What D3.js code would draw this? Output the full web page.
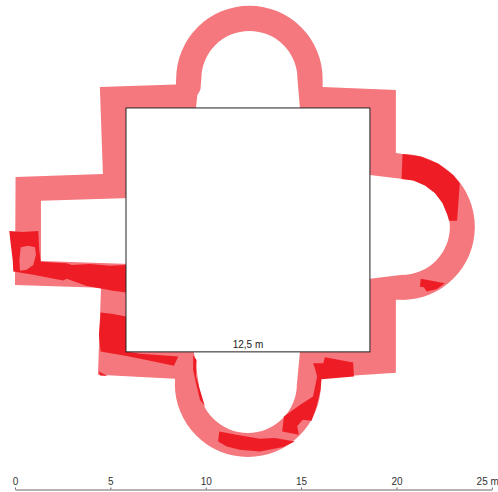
<!DOCTYPE html>
<html><head><meta charset="utf-8">
<script src="https://cdn.jsdelivr.net/npm/d3@7"></script>
<style>html,body{margin:0;background:#fff}svg{display:block}text{font-family:"Liberation Sans",Arial,sans-serif}</style>
</head><body><script>
// All plan data in metres
const scaleTicks=[0,5,10,15,20,25];
const roomLabel="12,5 m";
const room=[5.82,5.66,18.61,18.45];
const walls=[[4.45,4.56],[8.44,4.43],[8.44,4.14],[9.77,4.14],[9.72,4.70],[9.56,5.00],[9.49,5.66],[14.94,5.66],[14.81,4.14],[16.13,4.14],[16.13,4.56],[19.97,4.72],[19.97,8.02],[20.33,8.07],[20.33,9.38],[18.61,9.17],[18.61,14.62],[20.33,14.41],[20.33,15.72],[19.97,15.72],[19.97,19.55],[16.04,19.81],[16.04,20.18],[14.78,20.18],[14.94,18.45],[9.38,18.45],[9.64,20.18],[8.39,20.18],[8.39,19.86],[4.35,19.65],[4.51,15.09],[0,14.94],[0.03,9.28],[4.61,9.12]];
const apses=[
 {cx:12.29,cy:4.14,inner:2.52,outer:3.84,from:-90,to:90},
 {cx:20.28,cy:11.90,inner:2.52,outer:3.83,from:0,to:180},
 {cx:12.21,cy:20.13,inner:2.57,outer:3.83,from:90,to:270}];
const armVoid=[[1.36,10.53],[6.03,10.38],[6.03,13.84],[1.36,13.68]];
const patchLeft=[[-0.30,12.11],[0.40,12.16],[1.22,12.11],[1.27,13.10],[1.35,13.72],[2.71,13.80],[2.97,13.90],[3.93,13.84],[4.98,13.94],[5.82,13.89],[5.82,15.34],[5.14,15.24],[3.76,14.99],[2.71,14.62],[2.53,14.71],[0.96,14.41],[-0.09,14.24],[-0.12,13.63],[-0.23,12.74]];
const islandLeft=[[0.30,12.96],[0.70,12.89],[1.05,12.96],[1.10,13.36],[0.96,13.89],[0.61,14.15],[0.26,14.19],[0.23,13.63]];
const patchWing=[[4.49,16.39],[5.15,16.46],[5.82,16.60],[5.82,18.43],[6.55,18.55],[8.56,18.69],[8.33,19.18],[6.90,18.87],[5.85,18.66],[4.49,18.43],[4.40,17.56]];
const patchCorner=[[4.40,19.48],[4.45,19.69],[4.84,19.71]];
const patchSliver=[[9.34,18.61],[9.52,18.87],[9.49,19.74],[9.96,21.31],[9.70,20.96],[9.49,20.09],[9.34,19.39]];
const patchBottom=[[10.71,22.63],[11.62,22.80],[12.84,23.01],[13.63,22.97],[14.67,23.15],[14.06,23.44],[12.84,23.67],[11.79,23.58],[11.10,23.41],[10.65,23.15]];
const patchLowerRight=[[15.63,19.04],[16.16,19.04],[16.25,18.73],[17.73,19.01],[17.77,19.74],[16.07,19.88],[16.02,20.44],[15.81,21.31],[15.55,22.06],[15.09,22.01],[14.80,22.33],[14.88,22.80],[14.01,22.63],[14.10,21.84],[14.94,21.23],[15.63,20.79],[15.84,19.74],[15.72,19.29]];
const patchEast=[[20.32,8.07],[21.27,8.20],[22.20,8.58],[22.99,9.19],[23.32,9.61],[23.18,11.58],[22.76,11.58],[22.66,11.25],[22.41,10.64],[22.01,10.12],[21.49,9.72],[20.88,9.47],[20.27,9.38]];
const patchEastSmall=[[21.28,14.62],[22.54,14.85],[22.10,15.16],[21.58,15.29],[21.44,15.06],[21.23,15.03]];

const PINK="#f4787d",RED="#ee1c25";
const svg=d3.select("body").append("svg").attr("width",498).attr("height",492);
const x=d3.scaleLinear().domain([0,25]).range([15,491.8]);
const y=d3.scaleLinear().domain([0,25]).range([0,476.8]);
const k=x(1)-x(0);
const line=d3.line().x(d=>x(d[0])).y(d=>y(d[1]));
const poly=(pts,fill)=>svg.append("path").attr("d",line(pts)+"Z").attr("fill",fill);

poly(walls,PINK);
const arc=d3.arc();
svg.selectAll(".apse").data(apses).join("path").attr("class","apse")
 .attr("transform",d=>`translate(${x(d.cx)},${y(d.cy)})`)
 .attr("fill",PINK)
 .attr("d",d=>arc({innerRadius:d.inner*k,outerRadius:d.outer*k,startAngle:d.from*Math.PI/180,endAngle:d.to*Math.PI/180}));
poly(armVoid,"#fff");
[patchLeft,patchWing,patchCorner,patchSliver,patchBottom,patchLowerRight,patchEast,patchEastSmall].forEach(p=>poly(p,RED));
poly(islandLeft,PINK);

svg.append("rect").attr("x",x(room[0])).attr("y",y(room[1]))
 .attr("width",x(room[2])-x(room[0])).attr("height",y(room[3])-y(room[1]))
 .attr("fill","#fff").attr("stroke","#222").attr("stroke-width",1);
svg.append("text").attr("x",x((room[0]+room[2])/2)).attr("y",y(room[3])-4)
 .attr("text-anchor","middle").attr("font-size",10).attr("fill","#222").text(roomLabel);

const axis=d3.axisTop(x).tickValues(scaleTicks).tickSizeInner(2).tickSizeOuter(0).tickPadding(3)
 .tickFormat(d=>d===25?"25 m":d);
const g=svg.append("g").attr("transform","translate(0,489.5)").call(axis);
g.select(".domain").attr("stroke","#666");
g.selectAll(".tick line").attr("stroke","#666");
g.selectAll("text").attr("font-size",10).attr("fill","#333").attr("font-family",'"Liberation Sans",Arial,sans-serif');
g.selectAll(".tick").filter(d=>d===25).select("text").attr("text-anchor","end").attr("x",6.5);
</script></body></html>
